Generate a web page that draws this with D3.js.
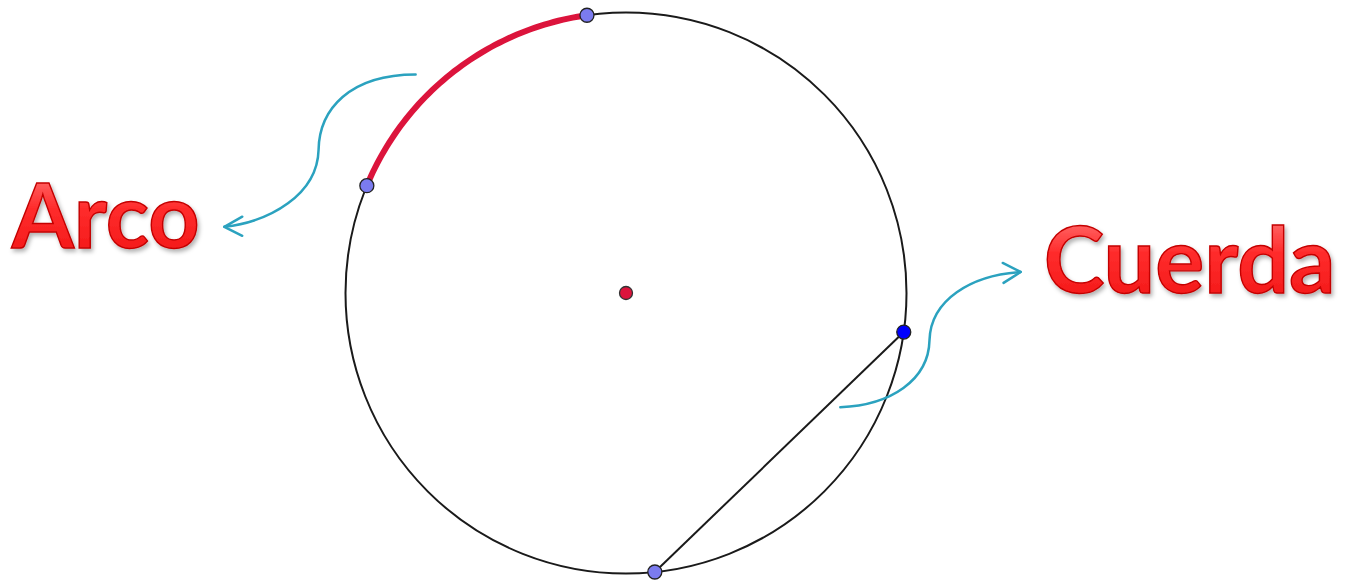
<!DOCTYPE html>
<html><head><meta charset="utf-8">
<script src="https://cdn.jsdelivr.net/npm/d3@7"></script>
<style>html,body{margin:0;padding:0;background:#fff;overflow:hidden}</style>
</head><body>
<svg id="c" width="1345" height="580"></svg>
<script>
// ---- data (unit-circle coordinates, radius = 1, angles in degrees) ----
const circleCenter = [0, 0];
const circleRadius = 1;
const arcAngles = [157.5, 98.0];          // red arc from -> to
const chordAngles = [-8.0, -84.1];        // chord endpoints
const pointAngles = [157.5, 98.0, -84.1]; // light-blue points
const bluePointAngle = [-8.0];            // dark blue point
const labels = ["Arco", "Cuerda"];
const labelPos = [[-2.19, 0.161], [1.489, 0.0]];
const labelWidth = [188, 292];
// annotation arrows: start, then two cubic segments (c1, c2, end)
const arrowArco = [[-0.75, 0.779], [-0.986, 0.779], [-1.093, 0.654], [-1.096, 0.511], [-1.10, 0.35], [-1.271, 0.254], [-1.432, 0.236]];
const arrowArcoHead = [[-1.368, 0.272], [-1.432, 0.236], [-1.368, 0.204]];
const arrowCuerda = [[0.764, -0.407], [0.943, -0.40], [1.079, -0.311], [1.082, -0.168], [1.086, -0.025], [1.229, 0.064], [1.407, 0.075]];
const arrowCuerdaHead = [[1.343, 0.107], [1.407, 0.075], [1.346, 0.036]];

const svg = d3.select("#c");
const R = 280.5;
const x = d3.scaleLinear().domain([-1, 1]).range([626 - R, 626 + R]);
const y = d3.scaleLinear().domain([-1, 1]).range([293 + R, 293 - R]);
const rad = d => d * Math.PI / 180;
const onCircle = a => [x(circleCenter[0] + circleRadius * Math.cos(rad(a))), y(circleCenter[1] + circleRadius * Math.sin(rad(a)))];

const defs = svg.append("defs");
const g = defs.append("linearGradient").attr("id", "gloss").attr("x1", 0).attr("y1", 0).attr("x2", 0).attr("y2", 1);
g.append("stop").attr("offset", "0%").attr("stop-color", "#ffa0a0");
g.append("stop").attr("offset", "20%").attr("stop-color", "#ff6060");
g.append("stop").attr("offset", "45%").attr("stop-color", "#ff2c2c");
g.append("stop").attr("offset", "100%").attr("stop-color", "#f01414");
const f = defs.append("filter").attr("id", "shadow").attr("x", "-5%").attr("y", "-10%").attr("width", "110%").attr("height", "130%");
f.append("feDropShadow").attr("dx", 2).attr("dy", 3).attr("stdDeviation", 2).attr("flood-color", "#000").attr("flood-opacity", 0.3);

// circle
svg.append("circle")
  .attr("cx", x(circleCenter[0])).attr("cy", y(circleCenter[1]))
  .attr("r", x(circleRadius) - x(0))
  .attr("fill", "none").attr("stroke", "#1a1a1a").attr("stroke-width", 2);

// chord
const cA = onCircle(chordAngles[0]), cB = onCircle(chordAngles[1]);
svg.append("line").attr("x1", cA[0]).attr("y1", cA[1]).attr("x2", cB[0]).attr("y2", cB[1])
  .attr("stroke", "#1a1a1a").attr("stroke-width", 2);

// red arc
const arcPts = d3.range(0, 61).map(i => onCircle(arcAngles[0] + (arcAngles[1] - arcAngles[0]) * i / 60));
svg.append("path").attr("d", d3.line()(arcPts)).attr("fill", "none")
  .attr("stroke", "#dc143c").attr("stroke-width", 6).attr("stroke-linecap", "round");

// center point
svg.append("circle").attr("cx", x(circleCenter[0])).attr("cy", y(circleCenter[1])).attr("r", 6.5)
  .attr("fill", "#dc143c").attr("stroke", "#333").attr("stroke-width", 1.3);

// points
svg.selectAll(".pt").data(pointAngles).join("circle").attr("class", "pt")
  .attr("cx", d => onCircle(d)[0]).attr("cy", d => onCircle(d)[1]).attr("r", 7)
  .attr("fill", "#7b7bef").attr("stroke", "#222").attr("stroke-width", 1.3);
svg.selectAll(".bpt").data(bluePointAngle).join("circle").attr("class", "bpt")
  .attr("cx", d => onCircle(d)[0]).attr("cy", d => onCircle(d)[1]).attr("r", 7)
  .attr("fill", "#0000ff").attr("stroke", "#222").attr("stroke-width", 1.3);

// arrows
function drawArrow(pts, head) {
  const p = d3.path();
  const P = pts.map(d => [x(d[0]), y(d[1])]);
  p.moveTo(P[0][0], P[0][1]);
  p.bezierCurveTo(P[1][0], P[1][1], P[2][0], P[2][1], P[3][0], P[3][1]);
  p.bezierCurveTo(P[4][0], P[4][1], P[5][0], P[5][1], P[6][0], P[6][1]);
  svg.append("path").attr("d", p.toString()).attr("fill", "none")
    .attr("stroke", "#2ba2bf").attr("stroke-width", 2.5).attr("stroke-linecap", "round");
  svg.append("path").attr("d", d3.line()(head.map(d => [x(d[0]), y(d[1])]))).attr("fill", "none")
    .attr("stroke", "#2ba2bf").attr("stroke-width", 2.5).attr("stroke-linecap", "round").attr("stroke-linejoin", "round");
}
drawArrow(arrowArco, arrowArcoHead);
drawArrow(arrowCuerda, arrowCuerdaHead);

// labels
svg.selectAll(".lbl").data(labels).join("text").attr("class", "lbl")
  .attr("x", (d, i) => x(labelPos[i][0])).attr("y", (d, i) => y(labelPos[i][1]))
  .attr("font-family", "Lato, 'Open Sans', sans-serif").attr("font-weight", "bold").attr("font-size", 90)
  .attr("fill", "url(#gloss)").attr("stroke", "#c40000").attr("stroke-width", 1.4)
  .attr("filter", "url(#shadow)")
  .text(d => d)
  .each(function (d, i) {
    const w = this.getComputedTextLength();
    d3.select(this).attr("font-size", 90 * Math.min(1.05, labelWidth[i] / w));
  });
</script>
</body></html>
